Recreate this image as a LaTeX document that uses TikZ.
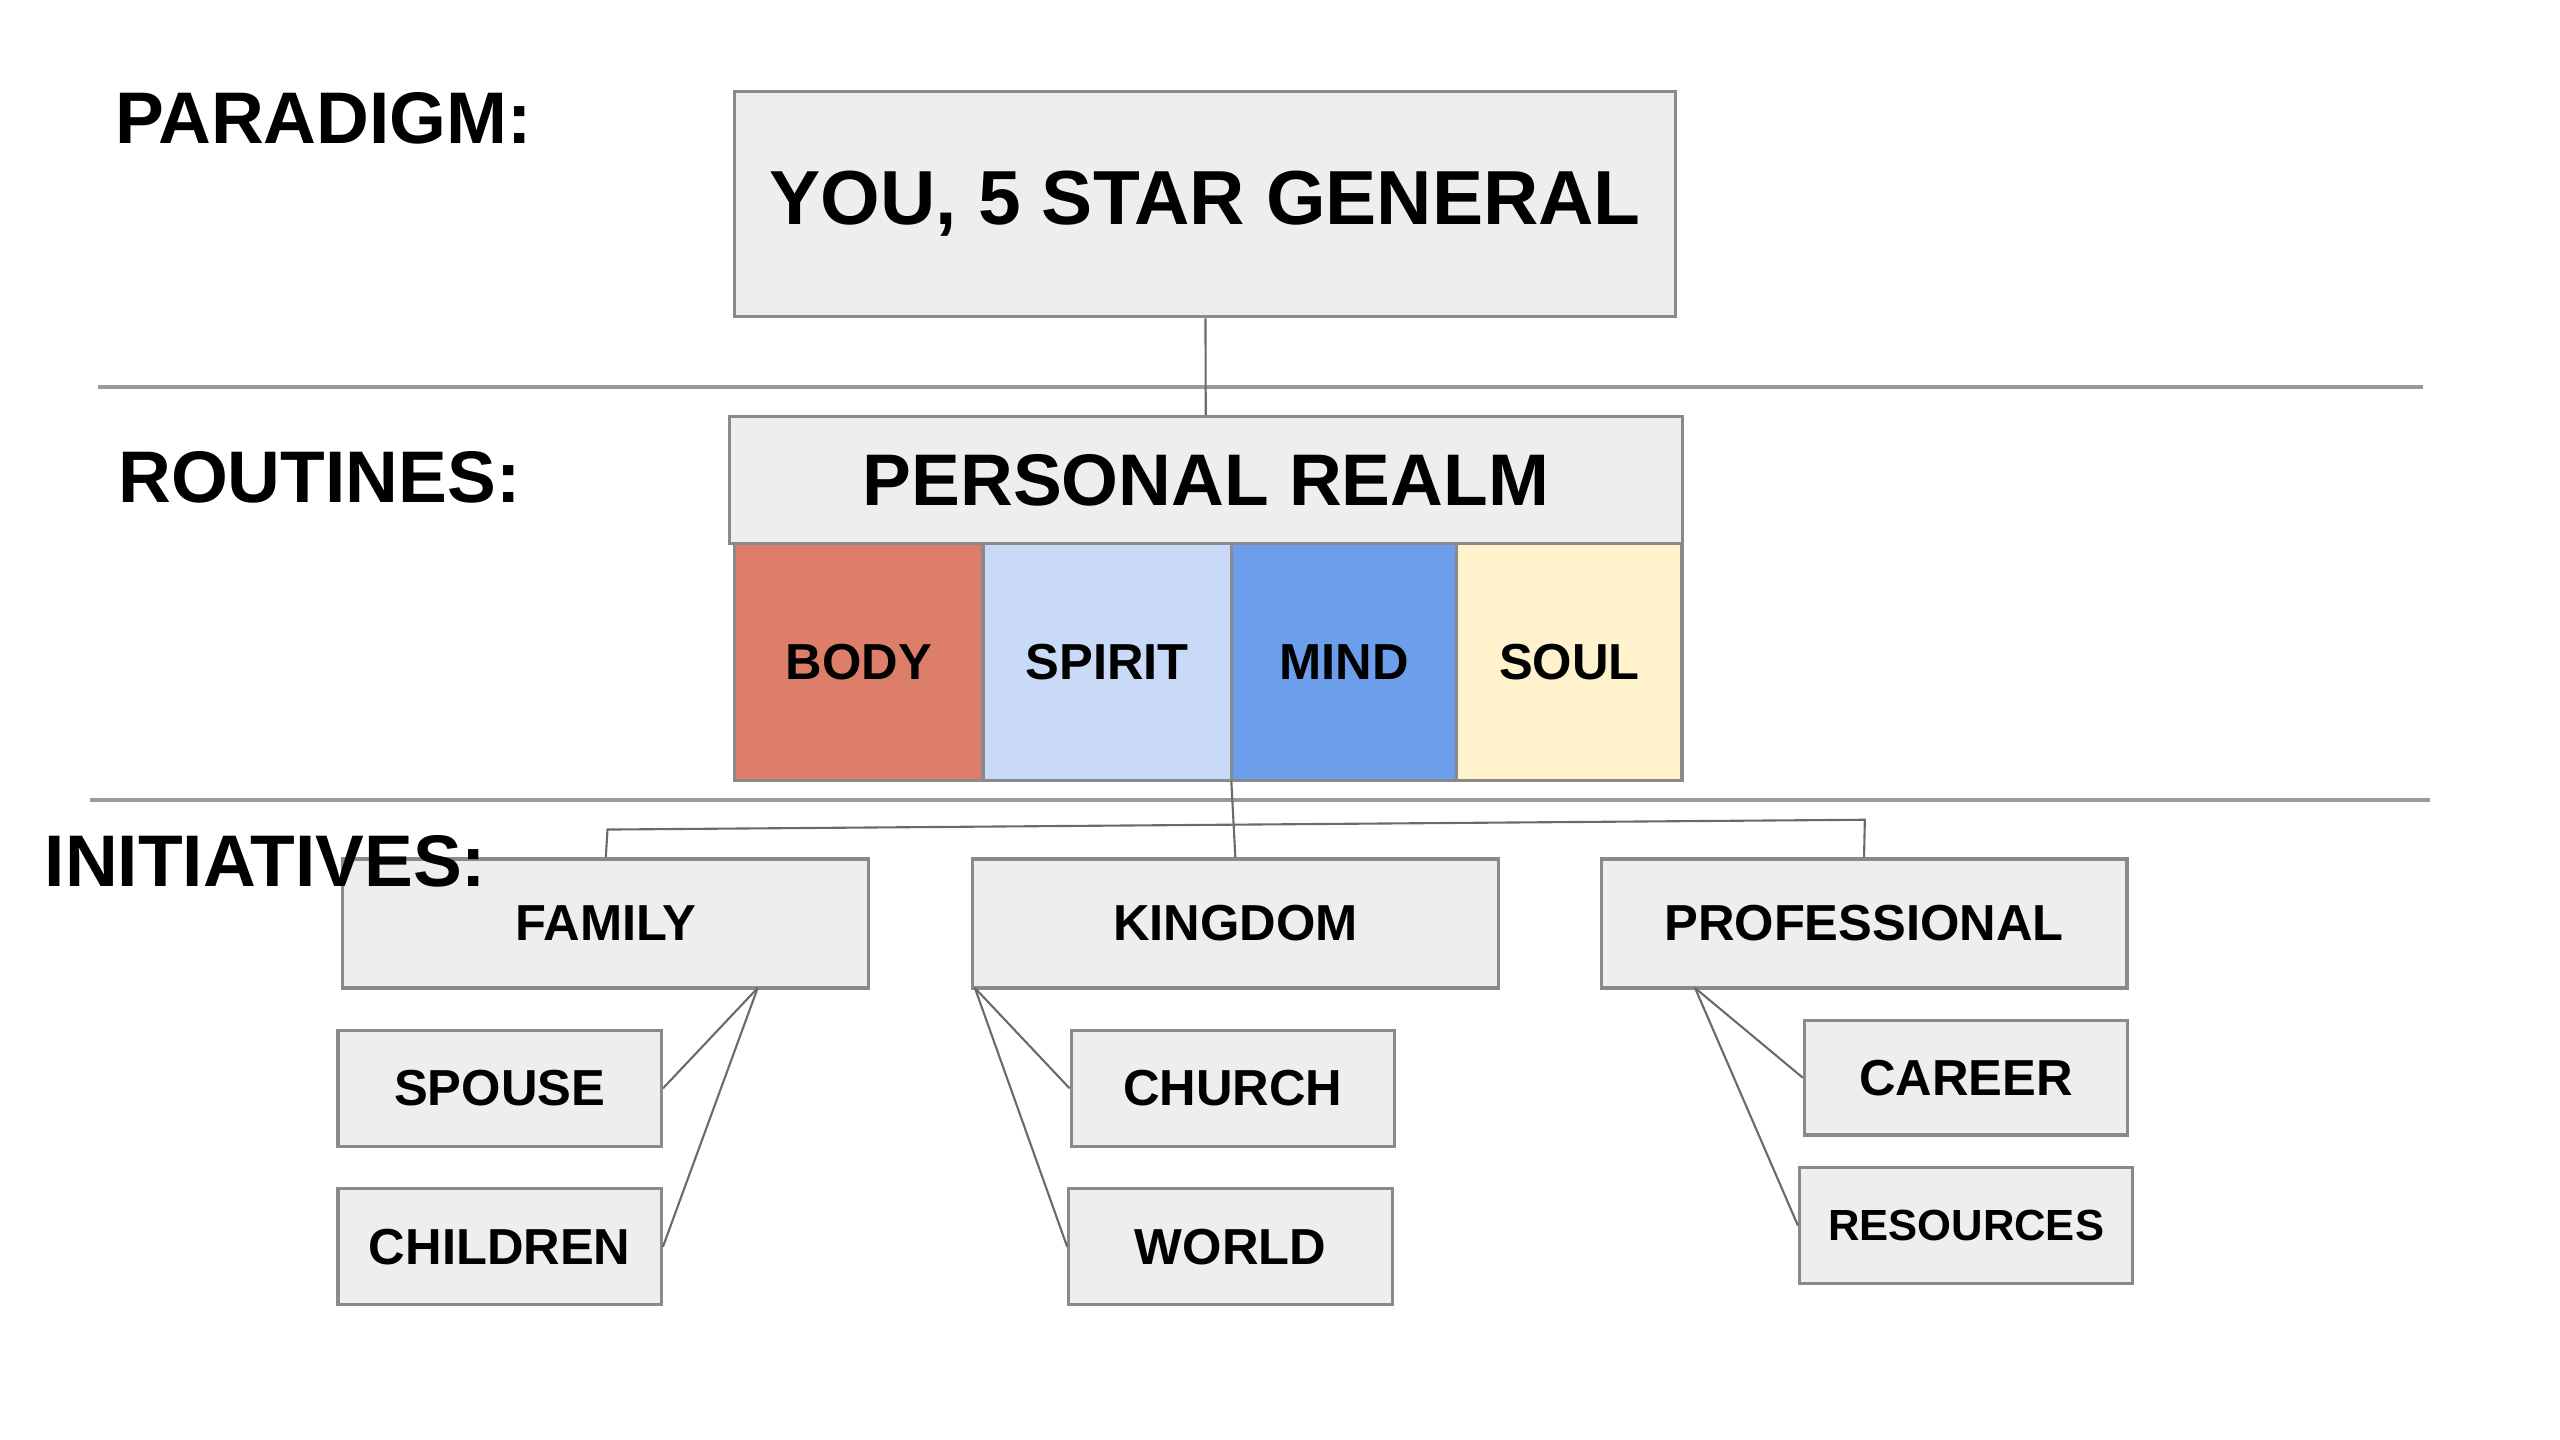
\documentclass[tikz,border=0pt]{standalone}
\usepackage{fontspec}
\setmainfont{Liberation Sans}
\usepackage{xcolor}
\usepackage{tikz}
\usetikzlibrary{positioning}

\definecolor{boxfill}{HTML}{EEEEEE}
\definecolor{boxline}{HTML}{8A8A8A}
\definecolor{sepgray}{HTML}{9A9A9A}
\definecolor{linkgray}{HTML}{6A6A6A}
\definecolor{bodyred}{HTML}{DD7E6B}
\definecolor{spiritblue}{HTML}{C9DAF8}
\definecolor{mindblue}{HTML}{6D9EEB}
\definecolor{soulyellow}{HTML}{FFF2CC}

\begin{document}
\begin{tikzpicture}[
  x=0.01633cm, y=-0.01633cm,
  box/.style={rectangle, draw=boxline, line width=0.9pt, fill=boxfill, inner sep=0pt, font=\bfseries\fontsize{14.4}{17}\selectfont},
  big/.style={box, minimum width=5.258cm, minimum height=1.290cm},
  small/.style={box, minimum width=3.233cm, minimum height=1.159cm},
  cell/.style={rectangle, draw=boxline, line width=0.9pt, outer sep=0pt, inner sep=0pt, minimum height=2.368cm, font=\bfseries\fontsize{14.4}{17}\selectfont},
  heading/.style={anchor=base west, inner sep=0pt, font=\bfseries\fontsize{20.8}{25}\selectfont},
  sep/.style={draw=sepgray, line width=1pt},
  link/.style={draw=linkgray, line width=0.6pt}
]
\useasboundingbox (0,0) rectangle (1567.7,881.8);

% Paradigm
\node[heading] (paradigmlbl) at (70,88) {PARADIGM:};
\node[box, minimum width=9.406cm, minimum height=2.253cm, font=\bfseries\fontsize{21.8}{26}\selectfont] (you) at (738,125) {YOU, 5 STAR GENERAL};

% Separators
\draw[sep] (60,237) -- (1484,237);
\draw[sep] (55,490) -- (1488,490);

% Routines
\node[heading] (routineslbl) at (72,308) {ROUTINES:};
\node[box, minimum width=9.521cm, minimum height=1.274cm, font=\bfseries\fontsize{20.8}{25}\selectfont] (realm) at (738.5,294) {PERSONAL REALM};

% Four cells under the realm
\node[cell, fill=bodyred, minimum width=2.482cm] (body) at (526,405.5) {BODY};
\node[cell, fill=spiritblue, minimum width=2.482cm, right=0pt of body] (spirit) {SPIRIT};
\node[cell, fill=mindblue, minimum width=2.253cm, right=0pt of spirit] (mind) {MIND};
\node[cell, fill=soulyellow, minimum width=2.253cm, right=0pt of mind] (soul) {SOUL};

% Initiatives row
\node[big] (family) at (371,565.5) {FAMILY};
\node[big] (kingdom) at (756.5,565.5) {KINGDOM};
\node[big] (professional) at (1141.5,565.5) {PROFESSIONAL};
\node[heading] (initiativeslbl) at (27,543) {INITIATIVES:};

% Sub boxes
\node[small] (spouse) at (306,666.5) {SPOUSE};
\node[small] (children) at (306,763.5) {CHILDREN};
\node[small] (church) at (755,666.5) {CHURCH};
\node[small] (world) at (753.5,763.5) {WORLD};
\node[small, minimum height=1.143cm] (career) at (1204,660) {CAREER};
\node[small, minimum width=3.331cm, font=\bfseries\fontsize{12.4}{15}\selectfont] (resources) at (1204,750.5) {RESOURCES};

% Forks
\coordinate (famleft) at (372,508);
\coordinate (proright) at (1142,502);
\coordinate (famfork) at (464,605);
\coordinate (kingfork) at (597,605);
\coordinate (profork) at (1038,605);

% Lines
\draw[link] (you) -- (realm);
\draw[link] (mind.south west) -- (kingdom.north);
\draw[link] (family.north) -- (famleft) -- (proright) -- (professional.north);
\draw[link] (famfork) -- (spouse.east);
\draw[link] (famfork) -- (children.east);
\draw[link] (kingfork) -- (church.west);
\draw[link] (kingfork) -- (world.west);
\draw[link] (profork) -- (career.west);
\draw[link] (profork) -- (resources.west);

\end{tikzpicture}
\end{document}
